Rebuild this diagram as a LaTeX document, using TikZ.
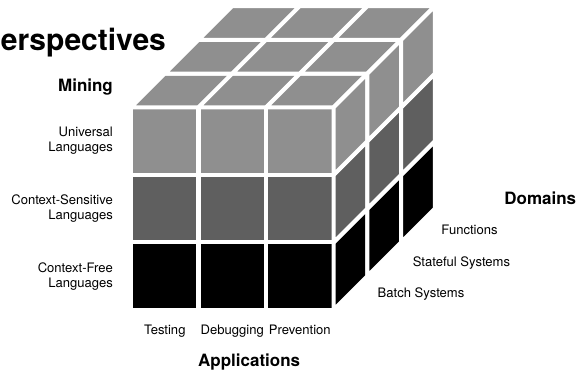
\documentclass[tikz,border=0pt]{standalone}
\usepackage{fontspec}
\setmainfont{TeX Gyre Heros}
\usetikzlibrary{positioning}
\definecolor{clight}{HTML}{8F8F8F}
\definecolor{cdark}{HTML}{5F5F5F}

\begin{document}
\begin{tikzpicture}[
    cell/.style={draw=white, line width=3.4pt, line join=round},
    axis/.style={font=\fontsize{14.3}{16}\selectfont\bfseries, inner sep=0pt},
    lvl/.style={font=\fontsize{11}{12.6}\selectfont, inner sep=0pt, align=right, anchor=east},
    tick/.style={font=\fontsize{11}{12.6}\selectfont, inner sep=0pt, anchor=base},
    dom/.style={font=\fontsize{11}{12.6}\selectfont, inner sep=0pt, anchor=base west},
]
\useasboundingbox (-3.88,-1.9) rectangle (13.27,9.18);
\clip (-3.88,-1.9) rectangle (13.27,9.18);

% === Front face: one row per language class ===
\foreach \j/\c in {0/black,1/cdark,2/clight}
  \foreach \i in {0,1,2}
    \filldraw[cell, fill=\c] (2*\i,2*\j) rectangle ++(2,2);

% === Top face ===
\foreach \k in {0,1,2}
  \foreach \i in {0,1,2}
    \filldraw[cell, fill=clight] (2*\i+\k,6+\k) -- ++(2,0) -- ++(1,1) -- ++(-2,0) -- cycle;

% === Right face: depth slices ===
\foreach \j/\c in {0/black,1/cdark,2/clight}
  \foreach \k in {0,1,2}
    \filldraw[cell, fill=\c] (6+\k,2*\j+\k) -- ++(1,1) -- ++(0,2) -- ++(-1,-1) -- cycle;

% Title (cut at the left border)
\node[font=\fontsize{25.3}{28}\selectfont\bfseries, anchor=base east, inner sep=0pt] (title) at (1.04,7.67) {Perspectives};

% Language axis
\node[axis, anchor=base east] (mining) at (-0.53,6.46) {Mining};
\node[lvl] (univ) at (-0.53,5) {Universal\\Languages};
\node[lvl] (csl) at (-0.53,3) {Context-Sensitive\\Languages};
\node[lvl] (cfl) at (-0.53,1) {Context-Free\\Languages};

% Application axis
\node[tick] (test) at (1,-0.74) {Testing};
\node[tick] (debug) at (3,-0.74) {Debugging};
\node[tick] (prev) at (5,-0.74) {Prevention};
\node[axis, anchor=base] (apps) at (3.5,-1.68) {Applications};

% Domain axis
\node[axis, anchor=base east] (dom) at (13.19,3.11) {Domains};
\node[dom] (func) at (9.19,2.22) {Functions};
\node[dom] (state) at (8.34,1.28) {Stateful Systems};
\node[dom] (batch) at (7.30,0.36) {Batch Systems};

\end{tikzpicture}
\end{document}
